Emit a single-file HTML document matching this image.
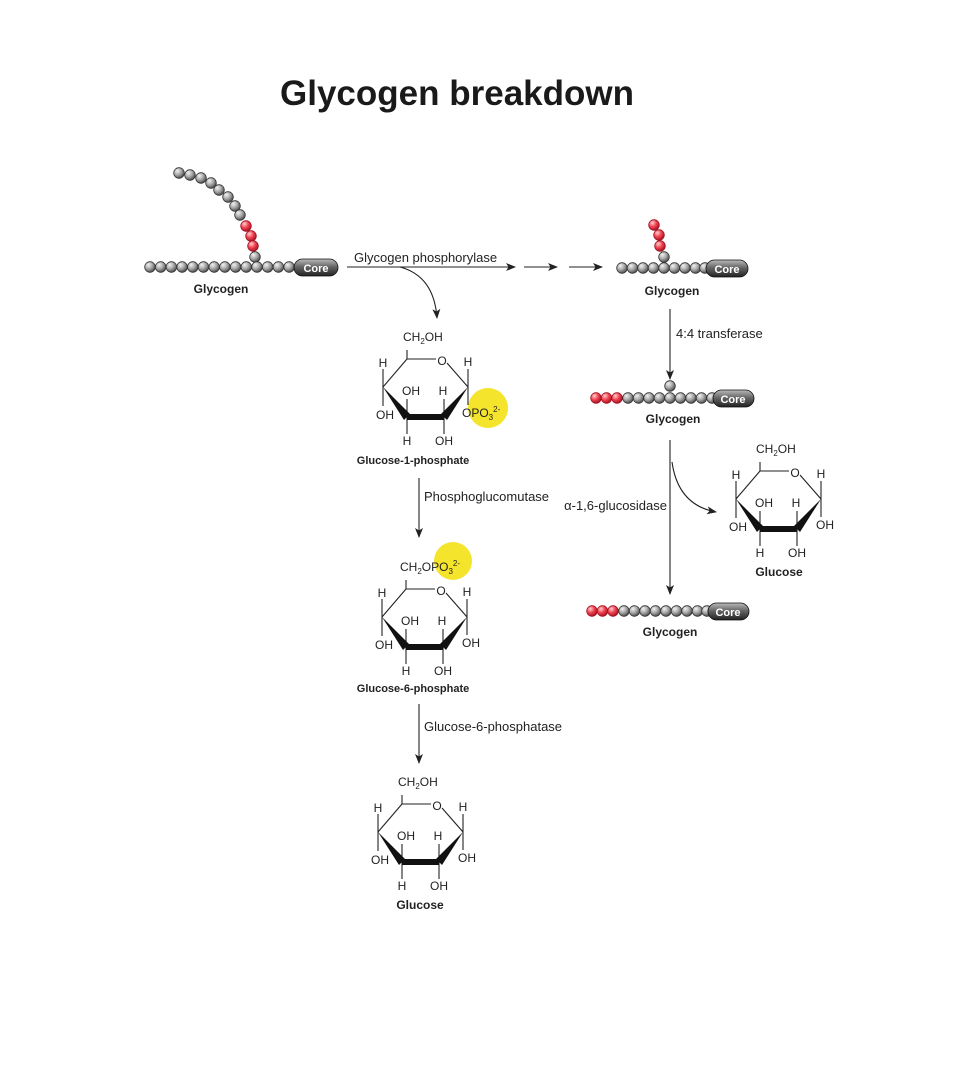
<!DOCTYPE html>
<html><head><meta charset="utf-8"><style>
html,body{margin:0;padding:0;background:#fff}
svg{display:block}
text{font-family:"Liberation Sans",Arial,sans-serif;fill:#222}
.t{font-size:12px}
.l{font-size:13px}
.b{font-size:12px;font-weight:bold}
.bs{font-size:11px;font-weight:bold}
</style></head><body>
<svg width="971" height="1088" viewBox="0 0 971 1088" xmlns="http://www.w3.org/2000/svg">
<defs>
<radialGradient id="g" cx="0.35" cy="0.3" r="0.75">
<stop offset="0" stop-color="#f2f2f2"/><stop offset="0.5" stop-color="#a8a8a8"/><stop offset="1" stop-color="#444"/></radialGradient>
<radialGradient id="r" cx="0.35" cy="0.3" r="0.75">
<stop offset="0" stop-color="#ffd0d0"/><stop offset="0.5" stop-color="#f04050"/><stop offset="1" stop-color="#a01020"/></radialGradient>
<linearGradient id="core" x1="0" y1="0" x2="0" y2="1">
<stop offset="0" stop-color="#bbb"/><stop offset="0.45" stop-color="#666"/><stop offset="1" stop-color="#222"/></linearGradient>
<marker id="ah" markerWidth="10" markerHeight="8" refX="9" refY="4" orient="auto" markerUnits="userSpaceOnUse">
<path d="M0,0 L10,4 L0,8 L2.5,4 Z" fill="#222"/></marker>
</defs>

<text x="457" y="105" text-anchor="middle" style="font-size:35px;font-weight:bold;fill:#1a1a1a">Glycogen breakdown</text>

<g stroke="#333" stroke-width="0.8">
<circle cx="179" cy="173" r="5.3" fill="url(#g)"/>
<circle cx="190" cy="175" r="5.3" fill="url(#g)"/>
<circle cx="201" cy="178" r="5.3" fill="url(#g)"/>
<circle cx="211" cy="183" r="5.3" fill="url(#g)"/>
<circle cx="219" cy="190" r="5.3" fill="url(#g)"/>
<circle cx="228" cy="197" r="5.3" fill="url(#g)"/>
<circle cx="235" cy="206" r="5.3" fill="url(#g)"/>
<circle cx="240" cy="215" r="5.3" fill="url(#g)"/>
<circle cx="246" cy="226" r="5.3" fill="url(#r)" stroke="#a01020"/>
<circle cx="251" cy="236" r="5.3" fill="url(#r)" stroke="#a01020"/>
<circle cx="253" cy="246" r="5.3" fill="url(#r)" stroke="#a01020"/>
<circle cx="255" cy="257" r="5.3" fill="url(#g)"/>
<circle cx="150" cy="267" r="5.3" fill="url(#g)"/><circle cx="160.7" cy="267" r="5.3" fill="url(#g)"/>
<circle cx="171.4" cy="267" r="5.3" fill="url(#g)"/><circle cx="182.1" cy="267" r="5.3" fill="url(#g)"/>
<circle cx="192.8" cy="267" r="5.3" fill="url(#g)"/><circle cx="203.5" cy="267" r="5.3" fill="url(#g)"/>
<circle cx="214.2" cy="267" r="5.3" fill="url(#g)"/><circle cx="224.9" cy="267" r="5.3" fill="url(#g)"/>
<circle cx="235.6" cy="267" r="5.3" fill="url(#g)"/><circle cx="246.3" cy="267" r="5.3" fill="url(#g)"/>
<circle cx="257" cy="267" r="5.3" fill="url(#g)"/><circle cx="267.7" cy="267" r="5.3" fill="url(#g)"/>
<circle cx="278.4" cy="267" r="5.3" fill="url(#g)"/><circle cx="289.1" cy="267" r="5.3" fill="url(#g)"/>
<rect x="294" y="259" width="44" height="17" rx="8.5" fill="url(#core)" stroke="#111"/>

<circle cx="654" cy="225" r="5.3" fill="url(#r)" stroke="#a01020"/>
<circle cx="659" cy="235" r="5.3" fill="url(#r)" stroke="#a01020"/>
<circle cx="660" cy="246" r="5.3" fill="url(#r)" stroke="#a01020"/>
<circle cx="664" cy="257" r="5.3" fill="url(#g)"/>
<circle cx="622" cy="268" r="5.3" fill="url(#g)"/><circle cx="632.5" cy="268" r="5.3" fill="url(#g)"/>
<circle cx="643" cy="268" r="5.3" fill="url(#g)"/><circle cx="653.5" cy="268" r="5.3" fill="url(#g)"/>
<circle cx="664" cy="268" r="5.3" fill="url(#g)"/><circle cx="674.5" cy="268" r="5.3" fill="url(#g)"/>
<circle cx="685" cy="268" r="5.3" fill="url(#g)"/><circle cx="695.5" cy="268" r="5.3" fill="url(#g)"/>
<circle cx="705" cy="268" r="5.3" fill="url(#g)"/>
<rect x="706" y="260" width="42" height="17" rx="8.5" fill="url(#core)" stroke="#111"/>

<circle cx="670" cy="386" r="5.3" fill="url(#g)"/>
<circle cx="596" cy="398" r="5.3" fill="url(#r)" stroke="#a01020"/><circle cx="606.5" cy="398" r="5.3" fill="url(#r)" stroke="#a01020"/>
<circle cx="617" cy="398" r="5.3" fill="url(#r)" stroke="#a01020"/>
<circle cx="628" cy="398" r="5.3" fill="url(#g)"/><circle cx="638.5" cy="398" r="5.3" fill="url(#g)"/>
<circle cx="649" cy="398" r="5.3" fill="url(#g)"/><circle cx="659.5" cy="398" r="5.3" fill="url(#g)"/>
<circle cx="670" cy="398" r="5.3" fill="url(#g)"/><circle cx="680.5" cy="398" r="5.3" fill="url(#g)"/>
<circle cx="691" cy="398" r="5.3" fill="url(#g)"/><circle cx="701.5" cy="398" r="5.3" fill="url(#g)"/>
<circle cx="712" cy="398" r="5.3" fill="url(#g)"/>
<rect x="713" y="390" width="41" height="17" rx="8.5" fill="url(#core)" stroke="#111"/>

<circle cx="592" cy="611" r="5.3" fill="url(#r)" stroke="#a01020"/><circle cx="602.5" cy="611" r="5.3" fill="url(#r)" stroke="#a01020"/>
<circle cx="613" cy="611" r="5.3" fill="url(#r)" stroke="#a01020"/>
<circle cx="624" cy="611" r="5.3" fill="url(#g)"/><circle cx="634.5" cy="611" r="5.3" fill="url(#g)"/>
<circle cx="645" cy="611" r="5.3" fill="url(#g)"/><circle cx="655.5" cy="611" r="5.3" fill="url(#g)"/>
<circle cx="666" cy="611" r="5.3" fill="url(#g)"/><circle cx="676.5" cy="611" r="5.3" fill="url(#g)"/>
<circle cx="687" cy="611" r="5.3" fill="url(#g)"/><circle cx="697.5" cy="611" r="5.3" fill="url(#g)"/>
<circle cx="707" cy="611" r="5.3" fill="url(#g)"/>
<rect x="708" y="603" width="41" height="17" rx="8.5" fill="url(#core)" stroke="#111"/>
</g>
<g style="font-size:11px;font-weight:bold">
<text x="316" y="272" text-anchor="middle" style="fill:#fff">Core</text>
<text x="727" y="273" text-anchor="middle" style="fill:#fff">Core</text>
<text x="733" y="403" text-anchor="middle" style="fill:#fff">Core</text>
<text x="728" y="616" text-anchor="middle" style="fill:#fff">Core</text>
</g>
<text class="b" x="221" y="293" text-anchor="middle">Glycogen</text>
<text class="b" x="672" y="295" text-anchor="middle">Glycogen</text>
<text class="b" x="673" y="423" text-anchor="middle">Glycogen</text>
<text class="b" x="670" y="636" text-anchor="middle">Glycogen</text>

<g stroke="#222" stroke-width="1.1" fill="none">
<line x1="347" y1="267" x2="515" y2="267" marker-end="url(#ah)"/>
<line x1="524" y1="267" x2="557" y2="267" marker-end="url(#ah)"/>
<line x1="569" y1="267" x2="602" y2="267" marker-end="url(#ah)"/>
<path d="M400,267 Q434,276 437,318" marker-end="url(#ah)"/>
<line x1="419" y1="478" x2="419" y2="537" marker-end="url(#ah)"/>
<line x1="419" y1="704" x2="419" y2="763" marker-end="url(#ah)"/>
<line x1="670" y1="309" x2="670" y2="379" marker-end="url(#ah)"/>
<line x1="670" y1="440" x2="670" y2="594" marker-end="url(#ah)"/>
<path d="M672,462 Q678,505 716,512" marker-end="url(#ah)"/>
</g>
<text class="l" x="354" y="262">Glycogen phosphorylase</text>
<text class="l" x="424" y="501">Phosphoglucomutase</text>
<text class="l" x="424" y="731">Glucose-6-phosphatase</text>
<text class="l" x="676" y="338">4:4 transferase</text>
<text class="l" x="667" y="510" text-anchor="end">α-1,6-glucosidase</text>

<circle cx="488" cy="408" r="20" fill="#f4e42c"/>
<circle cx="453" cy="561" r="19" fill="#f4e42c"/>

<g transform="translate(407,359)">
<g stroke="#222" stroke-width="1.1" fill="none">
<line x1="0" y1="0" x2="-24" y2="28"/><line x1="0" y1="0" x2="29" y2="0"/><line x1="40" y1="4" x2="61" y2="28"/>
<line x1="0" y1="0" x2="0" y2="-9"/>
<line x1="-24" y1="28" x2="-24" y2="10"/><line x1="-24" y1="28" x2="-24" y2="47"/>
<line x1="61" y1="28" x2="61" y2="10"/><line x1="61" y1="28" x2="61" y2="46"/>
<line x1="0" y1="58" x2="0" y2="40"/><line x1="0" y1="58" x2="0" y2="75"/>
<line x1="37" y1="58" x2="37" y2="40"/><line x1="37" y1="58" x2="37" y2="75"/>
</g>
<polygon points="-24,28 3,55 -3,61" fill="#111"/><rect x="0" y="55" width="37" height="6" fill="#111"/><polygon points="61,28 40,61 34,55" fill="#111"/>
<text class="t" x="-4" y="-18">CH<tspan dy="3" style="font-size:8px">2</tspan><tspan dy="-3">OH</tspan></text>
<text class="t" x="35" y="6" text-anchor="middle">O</text>
<text class="t" x="-24" y="8" text-anchor="middle">H</text>
<text class="t" x="-22" y="60" text-anchor="middle">OH</text>
<text class="t" x="4" y="36" text-anchor="middle">OH</text>
<text class="t" x="0" y="86" text-anchor="middle">H</text>
<text class="t" x="36" y="36" text-anchor="middle">H</text>
<text class="t" x="37" y="86" text-anchor="middle">OH</text>
<text class="t" x="61" y="7" text-anchor="middle">H</text>
<text class="t" x="55" y="58">OPO<tspan dy="3" style="font-size:8px">3</tspan><tspan dy="-8" style="font-size:8px">2-</tspan></text>
<text class="bs" x="6" y="105" text-anchor="middle">Glucose-1-phosphate</text>
</g>

<g transform="translate(406,589)">
<g stroke="#222" stroke-width="1.1" fill="none">
<line x1="0" y1="0" x2="-24" y2="28"/><line x1="0" y1="0" x2="29" y2="0"/><line x1="40" y1="4" x2="61" y2="28"/>
<line x1="0" y1="0" x2="0" y2="-9"/>
<line x1="-24" y1="28" x2="-24" y2="10"/><line x1="-24" y1="28" x2="-24" y2="47"/>
<line x1="61" y1="28" x2="61" y2="10"/><line x1="61" y1="28" x2="61" y2="46"/>
<line x1="0" y1="58" x2="0" y2="40"/><line x1="0" y1="58" x2="0" y2="75"/>
<line x1="37" y1="58" x2="37" y2="40"/><line x1="37" y1="58" x2="37" y2="75"/>
</g>
<polygon points="-24,28 3,55 -3,61" fill="#111"/><rect x="0" y="55" width="37" height="6" fill="#111"/><polygon points="61,28 40,61 34,55" fill="#111"/>
<text class="t" x="-6" y="-18">CH<tspan dy="3" style="font-size:8px">2</tspan><tspan dy="-3">OPO</tspan><tspan dy="3" style="font-size:8px">3</tspan><tspan dy="-8" style="font-size:8px">2-</tspan></text>
<text class="t" x="35" y="6" text-anchor="middle">O</text>
<text class="t" x="-24" y="8" text-anchor="middle">H</text>
<text class="t" x="-22" y="60" text-anchor="middle">OH</text>
<text class="t" x="4" y="36" text-anchor="middle">OH</text>
<text class="t" x="0" y="86" text-anchor="middle">H</text>
<text class="t" x="36" y="36" text-anchor="middle">H</text>
<text class="t" x="37" y="86" text-anchor="middle">OH</text>
<text class="t" x="61" y="7" text-anchor="middle">H</text>
<text class="t" x="65" y="58" text-anchor="middle">OH</text>
<text class="bs" x="7" y="103" text-anchor="middle">Glucose-6-phosphate</text>
</g>

<g transform="translate(402,804)">
<g stroke="#222" stroke-width="1.1" fill="none">
<line x1="0" y1="0" x2="-24" y2="28"/><line x1="0" y1="0" x2="29" y2="0"/><line x1="40" y1="4" x2="61" y2="28"/>
<line x1="0" y1="0" x2="0" y2="-9"/>
<line x1="-24" y1="28" x2="-24" y2="10"/><line x1="-24" y1="28" x2="-24" y2="47"/>
<line x1="61" y1="28" x2="61" y2="10"/><line x1="61" y1="28" x2="61" y2="46"/>
<line x1="0" y1="58" x2="0" y2="40"/><line x1="0" y1="58" x2="0" y2="75"/>
<line x1="37" y1="58" x2="37" y2="40"/><line x1="37" y1="58" x2="37" y2="75"/>
</g>
<polygon points="-24,28 3,55 -3,61" fill="#111"/><rect x="0" y="55" width="37" height="6" fill="#111"/><polygon points="61,28 40,61 34,55" fill="#111"/>
<text class="t" x="-4" y="-18">CH<tspan dy="3" style="font-size:8px">2</tspan><tspan dy="-3">OH</tspan></text>
<text class="t" x="35" y="6" text-anchor="middle">O</text>
<text class="t" x="-24" y="8" text-anchor="middle">H</text>
<text class="t" x="-22" y="60" text-anchor="middle">OH</text>
<text class="t" x="4" y="36" text-anchor="middle">OH</text>
<text class="t" x="0" y="86" text-anchor="middle">H</text>
<text class="t" x="36" y="36" text-anchor="middle">H</text>
<text class="t" x="37" y="86" text-anchor="middle">OH</text>
<text class="t" x="61" y="7" text-anchor="middle">H</text>
<text class="t" x="65" y="58" text-anchor="middle">OH</text>
<text class="b" x="18" y="105" text-anchor="middle">Glucose</text>
</g>

<g transform="translate(760,471)">
<g stroke="#222" stroke-width="1.1" fill="none">
<line x1="0" y1="0" x2="-24" y2="28"/><line x1="0" y1="0" x2="29" y2="0"/><line x1="40" y1="4" x2="61" y2="28"/>
<line x1="0" y1="0" x2="0" y2="-9"/>
<line x1="-24" y1="28" x2="-24" y2="10"/><line x1="-24" y1="28" x2="-24" y2="47"/>
<line x1="61" y1="28" x2="61" y2="10"/><line x1="61" y1="28" x2="61" y2="46"/>
<line x1="0" y1="58" x2="0" y2="40"/><line x1="0" y1="58" x2="0" y2="75"/>
<line x1="37" y1="58" x2="37" y2="40"/><line x1="37" y1="58" x2="37" y2="75"/>
</g>
<polygon points="-24,28 3,55 -3,61" fill="#111"/><rect x="0" y="55" width="37" height="6" fill="#111"/><polygon points="61,28 40,61 34,55" fill="#111"/>
<text class="t" x="-4" y="-18">CH<tspan dy="3" style="font-size:8px">2</tspan><tspan dy="-3">OH</tspan></text>
<text class="t" x="35" y="6" text-anchor="middle">O</text>
<text class="t" x="-24" y="8" text-anchor="middle">H</text>
<text class="t" x="-22" y="60" text-anchor="middle">OH</text>
<text class="t" x="4" y="36" text-anchor="middle">OH</text>
<text class="t" x="0" y="86" text-anchor="middle">H</text>
<text class="t" x="36" y="36" text-anchor="middle">H</text>
<text class="t" x="37" y="86" text-anchor="middle">OH</text>
<text class="t" x="61" y="7" text-anchor="middle">H</text>
<text class="t" x="65" y="58" text-anchor="middle">OH</text>
<text class="b" x="19" y="105" text-anchor="middle">Glucose</text>
</g>
</svg>
</body></html>
